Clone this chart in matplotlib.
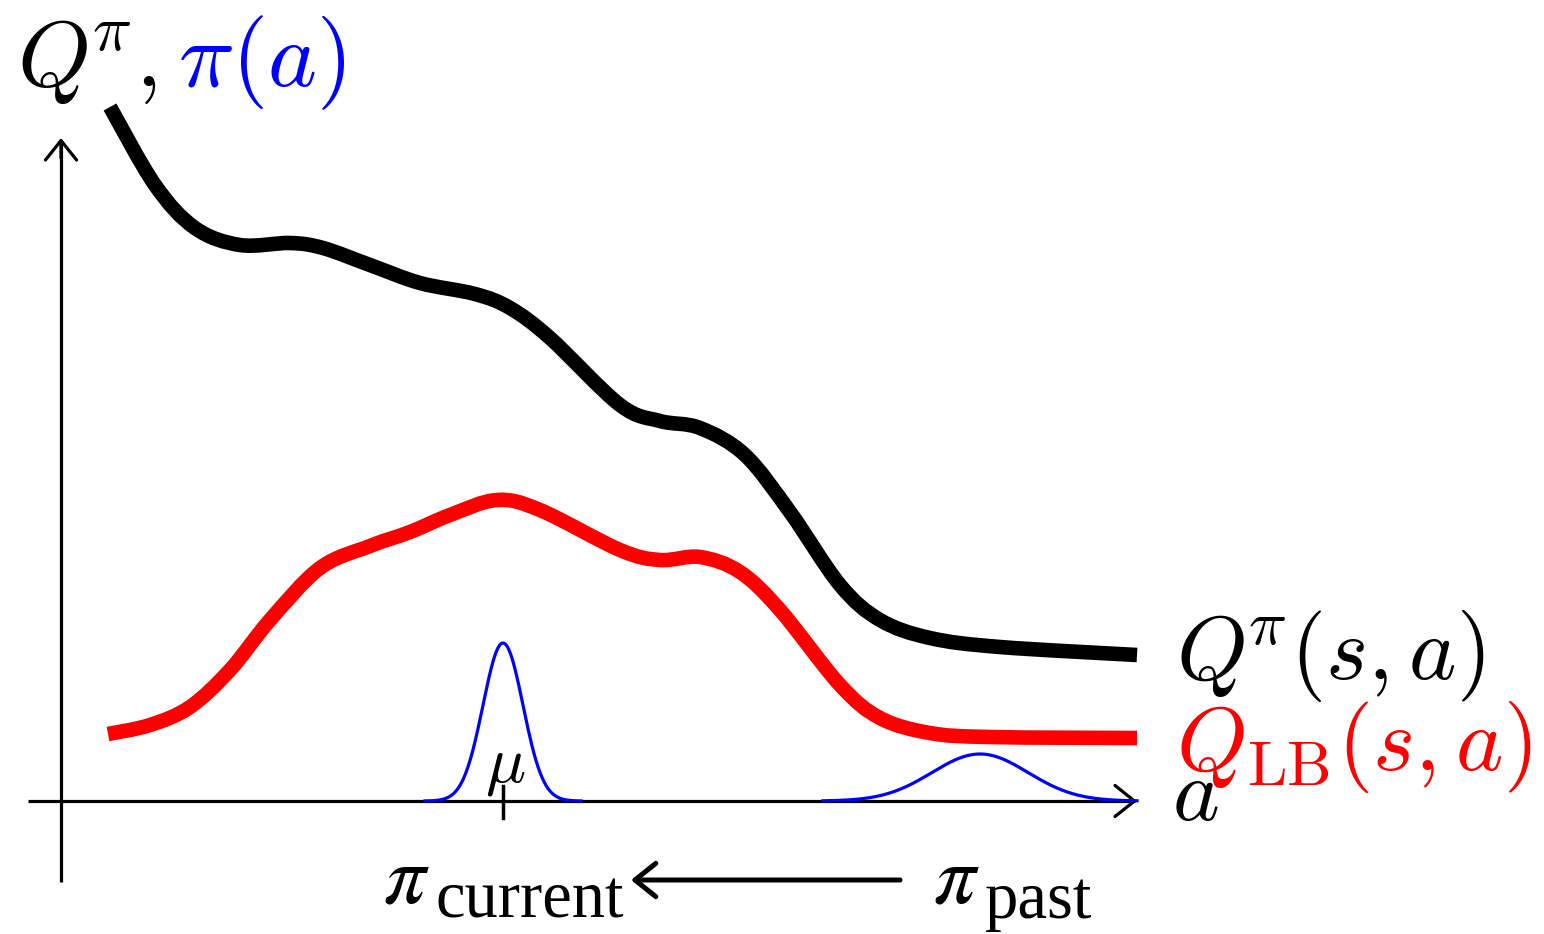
import numpy as np
import matplotlib
matplotlib.use("Agg")
import matplotlib.pyplot as plt
from matplotlib.path import Path
from matplotlib.patches import PathPatch, FancyArrowPatch

plt.rcParams['mathtext.fontset'] = 'cm'

# ---- data (figure pixel coordinates, y downwards) ----
q_x = [110, 155, 195, 240, 290, 323, 370, 420, 475, 510, 550, 620, 660, 700,
       745, 790, 840, 880, 930, 1000, 1137]
q_y = [107, 185, 228, 245, 243, 248, 265, 283, 294, 308, 338, 405, 421, 428,
       455, 512, 585, 620, 638, 647, 655]

qlb_x = [108, 150, 190, 230, 270, 320, 370, 410, 450, 497, 540, 620, 660, 700,
         740, 780, 840, 880, 930, 990, 1137]
qlb_y = [734, 725, 707, 670, 620, 568, 546, 532, 515, 500, 510, 550, 560, 557,
         572, 610, 685, 718, 733, 737, 738]

# Gaussian policies: mean, std, peak height, half-range (pixels)
pi_current = dict(mu=503, sigma=20, amp=158, half=78)
pi_past = dict(mu=980, sigma=48, amp=47, half=157)

axis_origin = (61, 801)
x_axis_end = 1137
y_axis_end = 138


def smooth_path(xs, ys):
    pts = np.column_stack([xs, ys]).astype(float)
    n = len(pts)
    verts = [pts[0]]
    codes = [Path.MOVETO]
    for i in range(n - 1):
        p0 = pts[i - 1] if i > 0 else pts[i]
        p1 = pts[i]
        p2 = pts[i + 1]
        p3 = pts[i + 2] if i + 2 < n else pts[i + 1]
        c1 = p1 + (p2 - p0) / 6.0
        c2 = p2 - (p3 - p1) / 6.0
        verts += [c1, c2, p2]
        codes += [Path.CURVE4] * 3
    return Path(verts, codes)


fig = plt.figure(figsize=(15.44, 9.34), dpi=100)
ax = fig.add_axes([0, 0, 1, 1])
ax.set_xlim(0, 1544)
ax.set_ylim(934, 0)
ax.axis('off')

# axes
ox, oy = axis_origin
ax.plot([ox, ox], [882, y_axis_end + 2], color='black', lw=2.3, solid_capstyle='butt')
ax.plot([28, x_axis_end - 2], [oy, oy], color='black', lw=2.3, solid_capstyle='butt')
for start, end in [((ox, y_axis_end + 20), (ox, y_axis_end)),
                   ((x_axis_end - 20, oy), (x_axis_end, oy))]:
    ax.add_patch(FancyArrowPatch(start, end, arrowstyle='->,head_length=0.5,head_width=0.4',
                                 mutation_scale=28, lw=2.3, color='black',
                                 shrinkA=0, shrinkB=0))

# Q curves
ax.add_patch(PathPatch(smooth_path(q_x, q_y), fill=False, edgecolor='black', lw=10.5,
                       capstyle='butt', joinstyle='round'))
ax.add_patch(PathPatch(smooth_path(qlb_x, qlb_y), fill=False, edgecolor='#ff0000', lw=10.5,
                       capstyle='butt', joinstyle='round'))

# Gaussian policies
for g in (pi_current, pi_past):
    xs = np.linspace(g['mu'] - g['half'], g['mu'] + g['half'], 300)
    ys = oy - g['amp'] * np.exp(-(xs - g['mu']) ** 2 / (2 * g['sigma'] ** 2))
    ax.plot(xs, ys, color='#0000ff', lw=2.3)

# mu tick
ax.plot([pi_current['mu'], pi_current['mu']], [786, 818], color='black', lw=2.5)
ax.text(pi_current['mu'] + 2, 781, r'$\mu$', fontsize=48, ha='center', va='baseline')

# labels
ax.text(17, 86, r'$Q^{\!\pi},$', fontsize=67, ha='left', va='baseline', color='black')
ax.text(178, 86, r'$\pi(a)$', fontsize=67, ha='left', va='baseline', color='#0000ff')
ax.text(1176, 679, r'$Q^{\!\pi}(s,a)$', fontsize=65, ha='left', va='baseline', color='black')
ax.text(1176, 770, r'$Q_{\mathrm{LB}}(s,a)$', fontsize=65, ha='left', va='baseline', color='#ff0000')
ax.text(1172, 820, r'$a$', fontsize=64, ha='left', va='baseline', color='black')

# bottom: policy shift arrow
ax.text(383, 903, r'$\pi$', fontsize=60, ha='left', va='baseline', math_fontfamily='stix')
ax.text(436, 918, 'current', fontsize=48, ha='left', va='baseline', family='Liberation Serif')
ax.text(933, 903, r'$\pi$', fontsize=60, ha='left', va='baseline', math_fontfamily='stix')
ax.text(985, 918, 'past', fontsize=48, ha='left', va='baseline', family='Liberation Serif')
ax.add_patch(FancyArrowPatch((900, 880), (631, 880),
                             arrowstyle='->,head_length=0.5,head_width=0.4',
                             mutation_scale=30, lw=3.6, color='black',
                             shrinkA=0, shrinkB=0))

fig.savefig('out.png', dpi=100, facecolor='white')
